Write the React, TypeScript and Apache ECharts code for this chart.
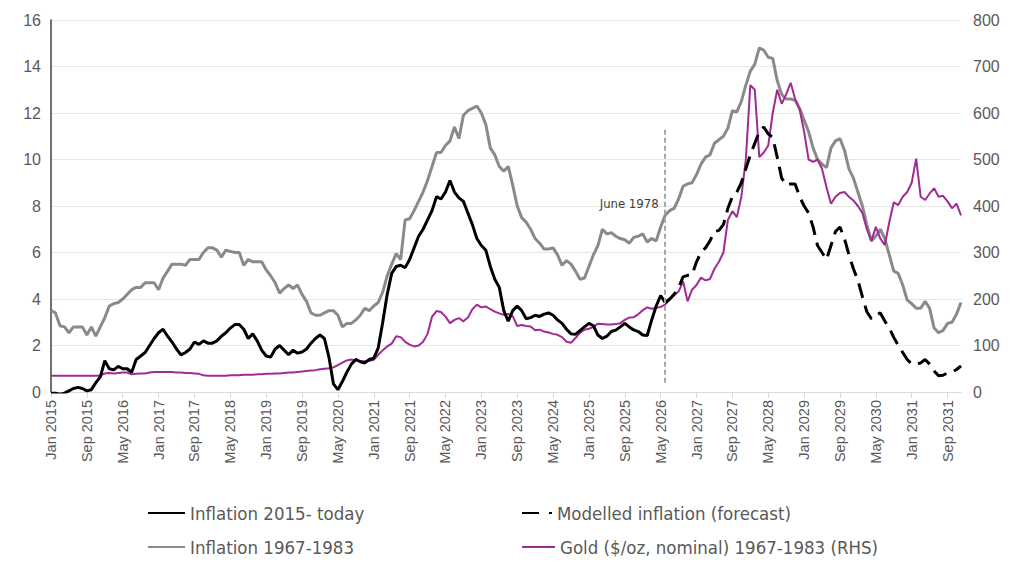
import React, { useEffect, useRef } from "react";
import * as echarts from "echarts";

const MONTHS = ["Jan", "Feb", "Mar", "Apr", "May", "Jun", "Jul", "Aug", "Sep", "Oct", "Nov", "Dec"];
const YEARS = [2015, 2016, 2017, 2018, 2019, 2020, 2021, 2022, 2023, 2024, 2025, 2026, 2027, 2028, 2029, 2030, 2031];
const categories: string[] = [];
YEARS.forEach((y) => MONTHS.forEach((m) => categories.push(`${m} ${y}`)));

const MARKER_MONTH = "Jun 2026";
const MARKER_LABEL = "June 1978";
const MARKER_LINE = [0.4, 11.35];
const MARKER_LABEL_Y = 8.1;

const SERIES_NAMES = [
  "Inflation 2015- today",
  "Modelled inflation (forecast)",
  "Inflation 1967-1983",
  "Gold ($/oz, nominal) 1967-1983 (RHS)",
];

// Inflation 2015 - today (Jan 2015 .. Jun 2026)
const inflationToday = [
  -0.05, -0.05, -0.1, -0.05, 0.05, 0.15, 0.2, 0.15, 0.05, 0.1,
  0.4, 0.65, 1.35, 1.0, 0.95, 1.1, 1.0, 1.0, 0.85, 1.4,
  1.55, 1.7, 2.0, 2.3, 2.55, 2.7, 2.4, 2.15, 1.85, 1.6,
  1.7, 1.85, 2.15, 2.05, 2.2, 2.1, 2.1, 2.2, 2.4, 2.55,
  2.75, 2.9, 2.9, 2.7, 2.3, 2.5, 2.2, 1.8, 1.55, 1.5,
  1.85, 2.0, 1.8, 1.6, 1.8, 1.67, 1.72, 1.85, 2.1, 2.3,
  2.45, 2.3, 1.5, 0.35, 0.1, 0.45, 0.85, 1.2, 1.4, 1.3,
  1.25, 1.4, 1.45, 1.9, 3.0, 4.2, 5.1, 5.4, 5.45, 5.35,
  5.7, 6.2, 6.7, 7.0, 7.4, 7.8, 8.4, 8.3, 8.6, 9.1,
  8.6, 8.35, 8.2, 7.7, 7.2, 6.6, 6.3, 6.1, 5.4, 4.85,
  4.5, 3.5, 3.05, 3.5, 3.7, 3.5, 3.15, 3.2, 3.3, 3.25,
  3.35, 3.4, 3.3, 3.1, 2.95, 2.7, 2.5, 2.48, 2.64, 2.8,
  2.95, 2.85, 2.45, 2.3, 2.4, 2.6, 2.66, 2.8, 2.95, 2.8,
  2.67, 2.6, 2.45, 2.43, 3.1, 3.7, 4.15, 3.85,
];

// Modelled inflation (Jun 2026 .. Dec 2031)
const forecast = [
  3.85, 4.0, 4.2,
  4.5, 4.95, 5.02, 5.04, 5.6, 6.0, 6.2, 6.5, 6.9, 6.95,
  7.2, 7.9, 8.4, 8.6, 9.0, 9.6, 10.2, 10.7, 11.2, 11.4,
  11.1, 10.95, 10.1, 9.2, 8.9, 8.95, 8.95, 8.4, 8.0, 7.7,
  7.1, 6.3, 6.0, 5.7, 6.3, 6.9, 7.1, 6.6, 5.9, 5.3,
  4.8, 4.1, 3.45, 3.15, 3.3, 3.4, 3.05, 2.75, 2.35, 2.0,
  1.7, 1.4, 1.2, 1.2, 1.25, 1.4, 1.2, 0.9, 0.7, 0.72,
  0.82, 0.86, 0.97, 1.12,
];

// Inflation 1967-1983 (aligned Jan 1967 -> Jan 2015)
const inflation1967 = [
  3.5, 3.4, 2.85, 2.8, 2.55, 2.8, 2.8, 2.8, 2.45, 2.8,
  2.4, 2.8, 3.2, 3.7, 3.8, 3.85, 4.0, 4.2, 4.4, 4.5,
  4.5, 4.7, 4.7, 4.7, 4.4, 4.9, 5.2, 5.5, 5.5, 5.5,
  5.45, 5.7, 5.7, 5.7, 6.0, 6.2, 6.2, 6.1, 5.8, 6.1,
  6.05, 6.0, 6.0, 5.45, 5.7, 5.6, 5.6, 5.6, 5.25, 5.0,
  4.7, 4.25, 4.45, 4.6, 4.45, 4.6, 4.2, 3.9, 3.4, 3.3,
  3.3, 3.4, 3.5, 3.5, 3.3, 2.8, 2.95, 2.95, 3.1, 3.3,
  3.6, 3.5, 3.7, 3.85, 4.3, 5.0, 5.5, 5.95, 5.7, 7.4,
  7.45, 7.8, 8.2, 8.6, 9.1, 9.7, 10.3, 10.3, 10.6, 10.8,
  11.4, 10.9, 11.9, 12.1, 12.2, 12.3, 12.0, 11.5, 10.5, 10.2,
  9.7, 9.5, 9.7, 8.9, 8.0, 7.5, 7.3, 7.0, 6.6, 6.4,
  6.15, 6.15, 6.2, 5.9, 5.45, 5.65, 5.5, 5.2, 4.85, 4.9,
  5.4, 5.9, 6.3, 7.0, 6.8, 6.85, 6.7, 6.6, 6.55, 6.4,
  6.65, 6.7, 6.8, 6.45, 6.6, 6.5, 7.1, 7.6, 7.8, 7.9,
  8.3, 8.85, 8.95, 9.0, 9.35, 9.8, 10.1, 10.2, 10.7, 10.85,
  11.0, 11.35, 12.1, 12.05, 12.5, 13.2, 13.8, 14.1, 14.8, 14.7,
  14.4, 14.35, 13.4, 12.8, 12.6, 12.6, 12.55, 12.2, 11.7, 11.2,
  10.5, 10.0, 9.8, 9.65, 10.5, 10.8, 10.9, 10.4, 9.6, 9.2,
  8.6, 8.0, 7.2, 6.5, 6.7, 7.0, 6.6, 5.9, 5.2, 5.1,
  4.6, 3.95, 3.8, 3.6, 3.6, 3.9, 3.6, 2.75, 2.55, 2.65,
  2.95, 3.0, 3.35, 3.85,
];

// Gold $/oz 1967-1983 (RHS)
const gold = [
  35, 35, 35, 35, 35, 35, 35, 35, 35, 35,
  35, 35, 40, 41, 40, 41, 42, 42, 38, 39,
  40, 40, 42, 43, 43, 43, 43, 43, 42, 42,
  41, 41, 40, 39, 36, 35, 35, 35, 35, 35,
  36, 36, 36, 37, 37, 37, 38, 38, 39, 39,
  40, 40, 41, 42, 42, 43, 44, 45, 46, 47,
  49, 50, 51, 53, 58, 63, 68, 70, 68, 66,
  66, 67, 69, 80, 90, 98, 104, 120, 118, 108,
  102, 98, 100, 108, 125, 162, 174, 172, 162, 148,
  155, 159, 152, 160, 178, 188, 182, 184, 178, 173,
  169, 166, 168, 163, 142, 144, 142, 141, 133, 134,
  130, 128, 125, 123, 118, 108, 106, 116, 127, 134,
  136, 140, 147, 146, 145, 145, 146, 148, 155, 160,
  161, 167, 176, 182, 179, 181, 183, 188, 198, 208,
  216, 238, 195, 220, 230, 246, 240, 243, 265, 280,
  300, 370, 389, 376, 420, 500, 660, 650, 505, 515,
  530, 600, 650, 620, 640, 665, 630, 608, 560, 500,
  495, 500, 480, 440, 405, 420, 428, 430, 420, 412,
  400, 385, 350, 325, 355, 330, 316, 365, 408, 402,
  420, 430, 450, 502, 420, 413, 427, 438, 420, 422,
  410, 395, 405, 380,
];

const LEFT_TICKS = { min: 0, max: 16, interval: 2 };
const RIGHT_TICKS = { min: 0, max: 800, interval: 100 };

const AXIS_FONT = "'Liberation Sans', Arial, sans-serif";
const LEGEND_FONT = "'Liberation Sans Narrow', 'DejaVu Sans Condensed', 'Liberation Sans', sans-serif";

const legendText = { fontSize: 18.5, color: "#595959", fontFamily: LEGEND_FONT, lineHeight: 20 };

function legendItem(name: string, left: number, top: number, width: number, extra: object = {}) {
  return {
    data: [name],
    orient: "vertical",
    left,
    top,
    padding: 0,
    itemWidth: width,
    itemHeight: 14,
    itemStyle: { opacity: 0 },
    textStyle: legendText,
    ...extra,
  };
}

export default function App() {
  const ref = useRef<HTMLDivElement>(null);

  useEffect(() => {
    if (!ref.current) return;
    const chart = echarts.init(ref.current, undefined, { renderer: "svg" });
    const padForecast: (number | null)[] = new Array(categories.length - forecast.length).fill(null);
    const forecastData = padForecast.concat(forecast);

    chart.setOption({
      animation: false,
      backgroundColor: "#ffffff",
      grid: { left: 51, right: 63, top: 20, bottom: 178, containLabel: false },
      legend: [
        legendItem(SERIES_NAMES[0], 147, 503, 37),
        legendItem(SERIES_NAMES[2], 147, 537, 37),
        legendItem(SERIES_NAMES[1], 521, 503, 30, { lineStyle: { type: [17, 10] } }),
        legendItem(SERIES_NAMES[3], 521, 537, 33),
      ],
      xAxis: {
        type: "category",
        data: categories,
        boundaryGap: false,
        axisLine: { show: true, lineStyle: { color: "#d9d9d9", width: 1 } },
        axisTick: { show: true, interval: 7, length: 6, lineStyle: { color: "#d9d9d9" } },
        axisLabel: {
          interval: 7,
          rotate: 90,
          margin: 8,
          fontSize: 14.5,
          color: "#595959",
          fontFamily: AXIS_FONT,
        },
        splitLine: { show: false },
      },
      yAxis: [
        {
          type: "value",
          ...LEFT_TICKS,
          position: "left",
          axisLine: { show: true, lineStyle: { color: "#404040", width: 1.5 } },
          axisTick: { show: false },
          axisLabel: { fontSize: 16, color: "#595959", margin: 10, fontFamily: AXIS_FONT },
          splitLine: { show: true, lineStyle: { color: "#e6e6e6", width: 1 } },
        },
        {
          type: "value",
          ...RIGHT_TICKS,
          position: "right",
          axisLine: { show: false },
          axisTick: { show: false },
          axisLabel: { fontSize: 16, color: "#595959", margin: 12, fontFamily: AXIS_FONT },
          splitLine: { show: false },
        },
      ],
      series: [
        {
          name: SERIES_NAMES[2],
          type: "line",
          data: inflation1967,
          symbol: "none",
          lineStyle: { color: "#8a8a8a", width: 3 },
          itemStyle: { color: "#8a8a8a" },
          z: 2,
        },
        {
          name: SERIES_NAMES[3],
          type: "line",
          yAxisIndex: 1,
          data: gold,
          symbol: "none",
          lineStyle: { color: "#a02b93", width: 2 },
          itemStyle: { color: "#a02b93" },
          z: 3,
        },
        {
          name: SERIES_NAMES[0],
          type: "line",
          data: inflationToday,
          symbol: "none",
          lineStyle: { color: "#000000", width: 3 },
          itemStyle: { color: "#000000" },
          z: 4,
        },
        {
          name: SERIES_NAMES[1],
          type: "line",
          data: forecastData,
          symbol: "none",
          lineStyle: { color: "#000000", width: 3, type: [15, 8] },
          itemStyle: { color: "#000000" },
          z: 4,
          markLine: {
            silent: true,
            symbol: ["none", "none"],
            label: { show: false },
            lineStyle: { color: "#a6a6a6", width: 2, type: [5, 3] },
            data: [[{ coord: [MARKER_MONTH, MARKER_LINE[0]] }, { coord: [MARKER_MONTH, MARKER_LINE[1]] }]],
          },
          markPoint: {
            silent: true,
            symbol: "circle",
            symbolSize: 1,
            itemStyle: { color: "rgba(0,0,0,0)" },
            label: {
              show: true,
              formatter: MARKER_LABEL,
              position: "left",
              distance: 6,
              color: "#404040",
              fontSize: 13,
              fontFamily: LEGEND_FONT,
            },
            data: [{ coord: [MARKER_MONTH, MARKER_LABEL_Y] }],
          },
        },
      ],
    });
    return () => chart.dispose();
  }, []);

  return (
    <div
      ref={ref}
      style={{ position: "fixed", left: 0, top: 0, width: 1024, height: 570, background: "#fff" }}
    />
  );
}
